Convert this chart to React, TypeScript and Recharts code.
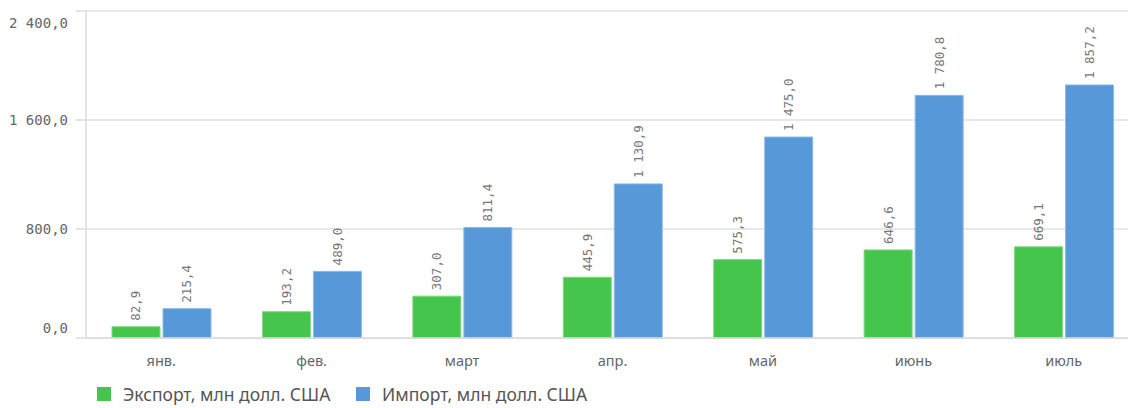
import React from 'react';
import { BarChart, Bar, XAxis, YAxis, CartesianGrid, Legend, LabelList } from 'recharts';

const months = ['янв.', 'фев.', 'март', 'апр.', 'май', 'июнь', 'июль'];
const exportValues = [82.9, 193.2, 307.0, 445.9, 575.3, 646.6, 669.1];
const importValues = [215.4, 489.0, 811.4, 1130.9, 1475.0, 1780.8, 1857.2];
const yTicks = [0, 800, 1600, 2400];
const seriesNames = ['Экспорт, млн долл. США', 'Импорт, млн долл. США'];
const colors = ['#45C54B', '#5698D8'];

const data = months.map((m, i) => ({ month: m, exp: exportValues[i], imp: importValues[i] }));

const fmt = (v: number) => {
  const [ip, dp] = v.toFixed(1).split('.');
  const withSp = ip.replace(/\B(?=(\d{3})+(?!\d))/g, ' ');
  return withSp + ',' + dp;
};

const MONO = '"DejaVu Sans Mono", monospace';
const SANS = '"Noto Sans", sans-serif';

const YTick = (props: any) => {
  const { x, y, payload } = props;
  let dy = 5;
  if (payload.value === 2400) dy = 16.5;
  if (payload.value === 0) dy = -5;
  return (
    <text x={x} y={y + dy} textAnchor="end" fill="#666" fontSize={14} fontFamily={MONO}>
      {fmt(payload.value)}
    </text>
  );
};

const XTick = (props: any) => {
  const { x, y, payload } = props;
  return (
    <text x={x} y={y + 20} textAnchor="middle" fill="#666" fontSize={14.5} fontFamily={SANS}>
      {payload.value}
    </text>
  );
};

const ValueLabel = (props: any) => {
  const { x, y, width, value } = props;
  const cx = x + width / 2;
  const by = y - 6;
  return (
    <text
      x={cx}
      y={by}
      transform={`rotate(-90, ${cx}, ${by})`}
      textAnchor="start"
      dominantBaseline="central"
      fill="#777"
      fontSize={12.5}
      fontFamily={MONO}
    >
      {fmt(value)}
    </text>
  );
};

const LegendContent = () => (
  <div style={{ position: 'relative', height: 40, fontFamily: SANS, fontSize: 17.5, color: '#555' }}>
    {seriesNames.map((n, i) => (
      <div
        key={n}
        style={{
          position: 'absolute',
          left: i === 0 ? 97 : 356,
          top: 19,
          display: 'flex',
          alignItems: 'center',
          whiteSpace: 'nowrap',
        }}
      >
        <span style={{ display: 'inline-block', width: 14, height: 14, background: colors[i], marginRight: 12 }} />
        <span style={{ lineHeight: '14px' }}>{n}</span>
      </div>
    ))}
  </div>
);

export default function App() {
  return (
    <div style={{ position: 'absolute', left: 0, top: 0, width: 1128, height: 408, overflow: 'hidden', background: '#fff' }}>
      <BarChart
        width={1160}
        height={408}
        data={data}
        margin={{ top: 11, right: 21, bottom: 0, left: 0 }}
        barGap={3}
        barSize={48}
      >
        <CartesianGrid vertical={false} stroke="#e0e0e0" strokeWidth={1.5} />
        <XAxis
          dataKey="month"
          height={30}
          tickLine={false}
          axisLine={{ stroke: '#dcdcdc', strokeWidth: 1.5 }}
          tick={<XTick />}
          interval={0}
        />
        <YAxis
          width={86}
          domain={[0, 2400]}
          ticks={yTicks}
          tickSize={10}
          tickMargin={8}
          tickLine={{ stroke: '#dcdcdc', strokeWidth: 1.5 }}
          axisLine={{ stroke: '#dcdcdc', strokeWidth: 1.5 }}
          tick={<YTick />}
          interval={0}
        />
        <Legend verticalAlign="bottom" height={40} content={<LegendContent />} />
        <Bar dataKey="exp" name={seriesNames[0]} fill={colors[0]} stroke="#7fd983" strokeWidth={1} isAnimationActive={false}>
          <LabelList dataKey="exp" content={<ValueLabel />} />
        </Bar>
        <Bar dataKey="imp" name={seriesNames[1]} fill={colors[1]} stroke="#8dbbe8" strokeWidth={1} isAnimationActive={false}>
          <LabelList dataKey="imp" content={<ValueLabel />} />
        </Bar>
      </BarChart>
    </div>
  );
}
